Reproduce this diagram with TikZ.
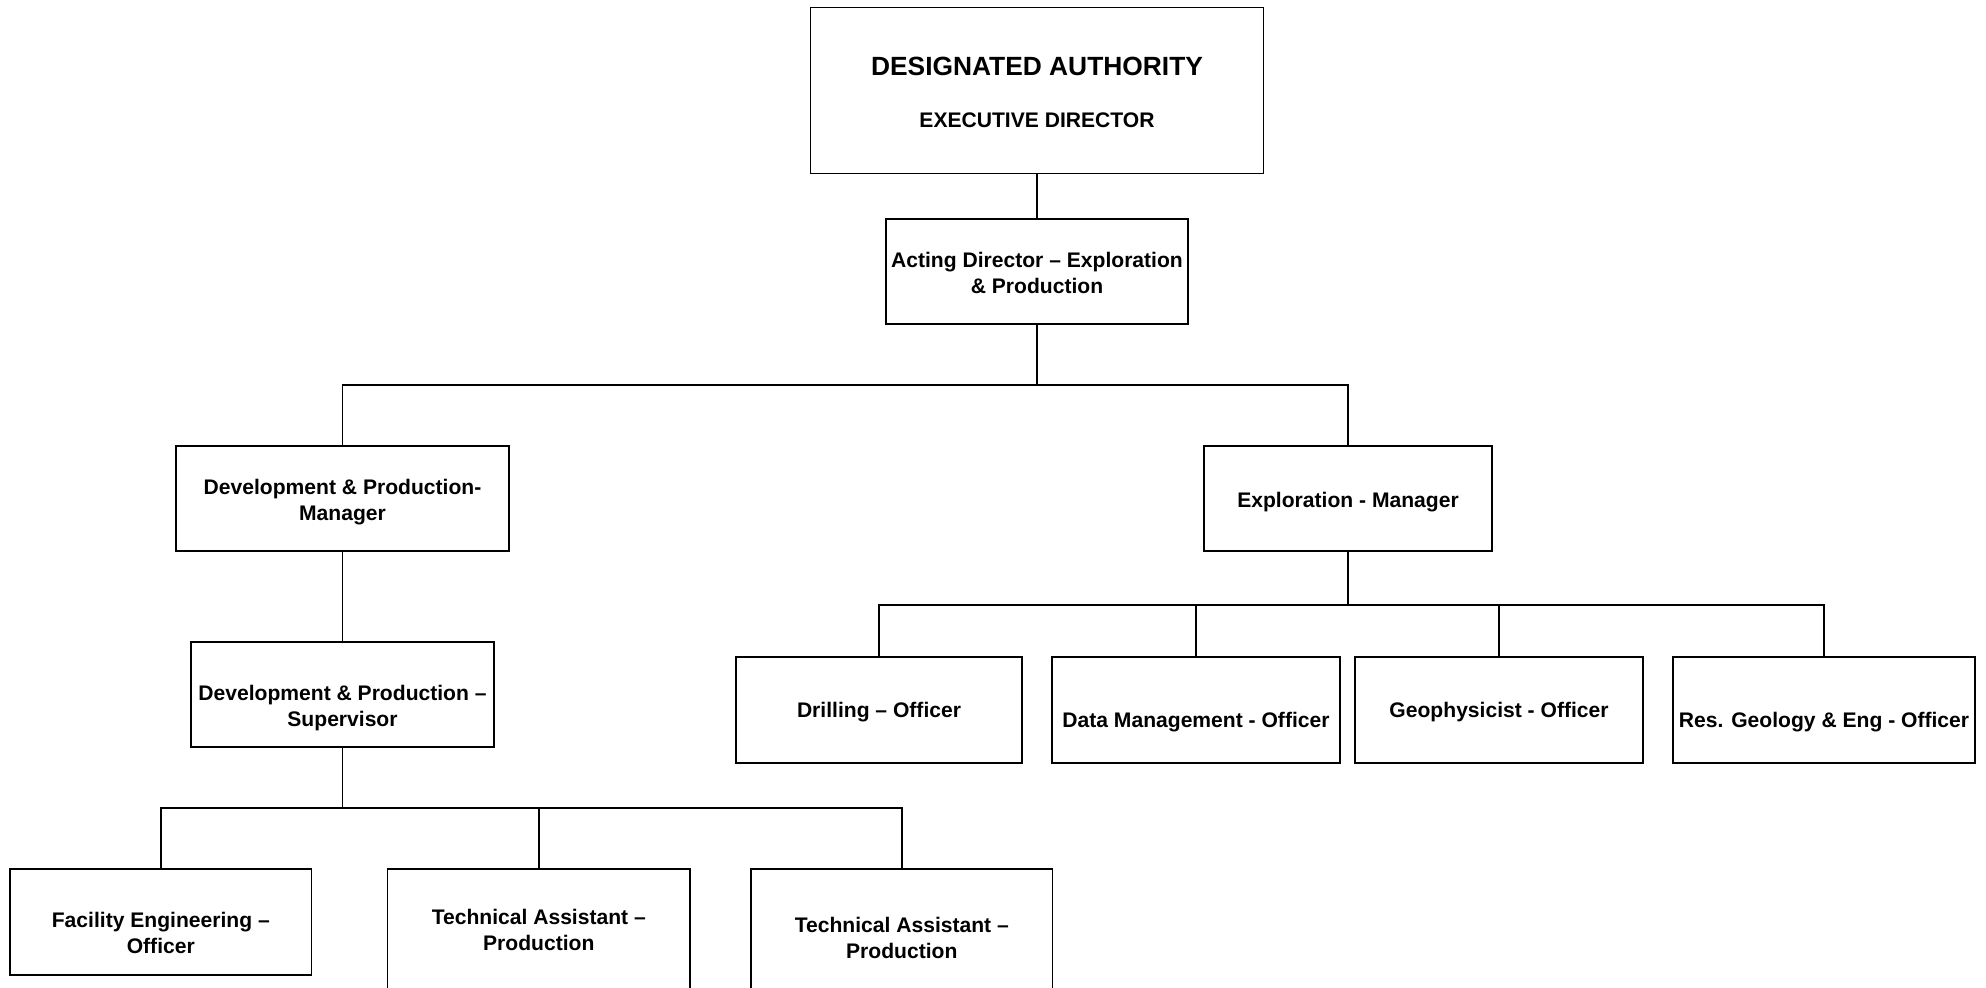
\documentclass[tikz,border=0pt]{standalone}
\usepackage{fontspec}
\setmainfont{Liberation Sans}
\newcommand{\sunk}[2]{\raisebox{-#1}[\height][\depth]{\begin{tabular}{@{}c@{}}#2\end{tabular}}}

\begin{document}
\begin{tikzpicture}[x=0.02cm,y=-0.02cm,
    post/.style={draw,line width=1pt,inner sep=0pt,align=center,
        font=\bfseries\fontsize{12}{14.8}\selectfont},
    dims/.style 2 args={minimum width=#1,minimum height=#2},
    link/.style={line width=0.8pt}]
    \useasboundingbox (0,0) rectangle (1986,987);
    \clip (0,0) rectangle (1986,987);

    \node[post,dims={9.06cm}{3.32cm}] (auth) at (1037,90.5)
        {\sunk{0.12cm}{{\fontsize{15}{18}\selectfont DESIGNATED AUTHORITY}\\[15pt]EXECUTIVE DIRECTOR}};
    \node[post,dims={6.03cm}{2.1cm}] (act) at (1037,271.5)
        {\sunk{0.07cm}{Acting Director -- Exploration\\\& Production}};

    \node[post,dims={6.66cm}{2.1cm}] (dpm) at (342.5,498.5)
        {\sunk{0.07cm}{Development \& Production-\\Manager}};
    \node[post,dims={5.75cm}{2.1cm}] (expm) at (1348,498.5)
        {\sunk{0.07cm}{Exploration - Manager}};
    \node[post,dims={6.06cm}{2.1cm}] (dps) at (342.5,694.5)
        {\sunk{0.27cm}{Development \& Production --\\Supervisor}};

    \node[post,dims={6.03cm}{2.12cm}] (fac) at (160.8,922)
        {\sunk{0.27cm}{Facility Engineering --\\Officer}};
    \node[post,dims={6.05cm}{2.42cm}] (ta1) at (538.8,929.5)
        {Technical Assistant --\\Production};
    \node[post,dims={6.03cm}{2.8cm}] (ta2) at (901.8,939)
        {\sunk{0.02cm}{Technical Assistant --\\Production}};

    \node[post,dims={5.72cm}{2.11cm}] (drill) at (879,710)
        {\sunk{0.05cm}{Drilling -- Officer}};
    \node[post,dims={5.75cm}{2.11cm}] (data) at (1196,710)
        {\sunk{0.24cm}{Data Management - Officer}};
    \node[post,dims={5.76cm}{2.11cm}] (geo) at (1499,710)
        {\sunk{0.05cm}{Geophysicist - Officer}};
    \node[post,dims={6.04cm}{2.11cm}] (res) at (1824,710)
        {\sunk{0.24cm}{Res. Geology \& Eng - Officer}};

    \draw[link] (auth) -- (act);
    \draw[link] (act.south) -- ++(0,60) coordinate (busa);
    \draw[link] (dpm.north) |- (busa) -| (expm.north);

    \draw[link] (dpm) -- (dps);
    \draw[link] (dps.south) -- ++(0,60) coordinate (busb);
    \draw[link] (fac.north) |- (busb) -| (ta2.north);
    \draw[link] (busb) -| (ta1.north);

    \draw[link] (expm.south) -- ++(0,53) coordinate (busc);
    \draw[link] (drill.north) |- (busc) -| (res.north);
    \draw[link] (busc) -| (data.north);
    \draw[link] (busc) -| (geo.north);
\end{tikzpicture}
\end{document}
